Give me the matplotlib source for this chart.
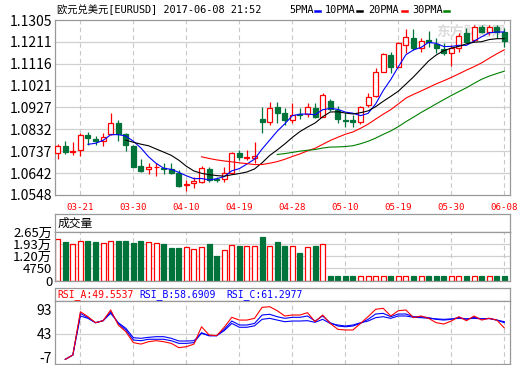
import matplotlib
matplotlib.use("Agg")
import matplotlib.pyplot as plt
from matplotlib.lines import Line2D
import numpy as np
import pandas as pd

W, H = 520, 365

# ---- data ----
dates = ["03-21", "03-30", "04-10", "04-19", "04-28", "05-10", "05-19", "05-30", "06-08"]
date_idx = [3, 10, 17, 24, 31, 38, 45, 52, 59]

opens = [1.0728, 1.0761, 1.0734, 1.0743, 1.0808, 1.0790, 1.0783, 1.0812, 1.0858, 1.0812,
         1.0760, 1.0673, 1.0659, 1.0667, 1.0666, 1.0659, 1.0642, 1.0593, 1.0599, 1.0606,
         1.0659, 1.0619, 1.0616, 1.0642, 1.0731, 1.0708, 1.0709, 1.0875, 1.0865, 1.0927,
         1.0901, 1.0872, 1.0898, 1.0898, 1.0923, 1.0887, 1.0955, 1.0916, 1.0871, 1.0872,
         1.0865, 1.0936, 1.0976, 1.1081, 1.1154, 1.1103, 1.1197, 1.1229, 1.1185, 1.1219,
         1.1200, 1.1178, 1.1161, 1.1185, 1.1247, 1.1219, 1.1273, 1.1254, 1.1273, 1.1252]
highs = [1.0769, 1.0782, 1.0779, 1.0818, 1.0822, 1.0803, 1.0815, 1.0901, 1.0872, 1.0818,
         1.0766, 1.0702, 1.0685, 1.0688, 1.0685, 1.0688, 1.0656, 1.0613, 1.0627, 1.0673,
         1.0670, 1.0627, 1.0668, 1.0735, 1.0743, 1.0743, 1.0779, 1.0930, 1.0952, 1.0952,
         1.0923, 1.0945, 1.0923, 1.0947, 1.0945, 1.0988, 1.0965, 1.0933, 1.0901, 1.0894,
         1.0933, 1.0991, 1.1096, 1.1161, 1.1168, 1.1211, 1.1265, 1.1266, 1.1226, 1.1257,
         1.1228, 1.1204, 1.1197, 1.1247, 1.1269, 1.1283, 1.1283, 1.1283, 1.1283, 1.1269]
lows = [1.0704, 1.0725, 1.0721, 1.0717, 1.0764, 1.0764, 1.0760, 1.0808, 1.0783, 1.0740,
        1.0667, 1.0649, 1.0639, 1.0630, 1.0639, 1.0639, 1.0584, 1.0567, 1.0577, 1.0600,
        1.0606, 1.0604, 1.0606, 1.0639, 1.0699, 1.0699, 1.0685, 1.0818, 1.0851, 1.0858,
        1.0851, 1.0858, 1.0875, 1.0887, 1.0880, 1.0884, 1.0911, 1.0861, 1.0843, 1.0841,
        1.0855, 1.0930, 1.0973, 1.1079, 1.1074, 1.1100, 1.1161, 1.1175, 1.1165, 1.1190,
        1.1161, 1.1154, 1.1107, 1.1168, 1.1204, 1.1211, 1.1247, 1.1240, 1.1226, 1.1190]
closes = [1.0760, 1.0735, 1.0737, 1.0808, 1.0796, 1.0783, 1.0798, 1.0858, 1.0812, 1.0764,
          1.0670, 1.0652, 1.0669, 1.0670, 1.0659, 1.0644, 1.0587, 1.0596, 1.0607, 1.0663,
          1.0613, 1.0612, 1.0644, 1.0731, 1.0711, 1.0712, 1.0717, 1.0864, 1.0923, 1.0904,
          1.0872, 1.0894, 1.0895, 1.0927, 1.0887, 1.0981, 1.0922, 1.0875, 1.0868, 1.0864,
          1.0927, 1.0971, 1.1079, 1.1158, 1.1103, 1.1204, 1.1230, 1.1182, 1.1214, 1.1211,
          1.1183, 1.1161, 1.1185, 1.1237, 1.1211, 1.1276, 1.1252, 1.1273, 1.1252, 1.1214]

volumes = [22700, 21000, 20100, 21800, 21800, 21200, 20600, 21800, 21400, 21800,
           20300, 21800, 21000, 20600, 20100, 17900, 17900, 18400, 17300, 18400,
           20100, 13400, 16600, 19400, 19000, 19100, 19100, 24000, 19000, 20800,
           19100, 19000, 15200, 18400, 19100, 20100, 2700, 2700, 2700, 2700,
           2700, 2700, 2700, 2700, 2700, 2700, 2700, 2700, 2700, 2700,
           2700, 2700, 2700, 2700, 2700, 2700, 2700, 2700, 2700, 2700]

rsi_a = [np.nan, -10.8, -1.8, 88.4, 78, 65.5, 69.7, 92, 60.7, 46.8,
         24, 21, 26, 28, 26, 22.5, 13.5, 15.5, 21, 57,
         40, 38.5, 56, 76.7, 71, 71, 74.6, 97.5, 98.8, 90.5,
         79.5, 81.5, 81.5, 86.4, 67.6, 81.5, 64, 51.7, 50.3, 50.3,
         64, 78, 93.4, 95.5, 79.5, 90.5, 92, 76, 79.5, 74.6,
         65.5, 62.8, 69, 78, 69.7, 79.5, 71, 74.6, 71, 54.5]
rsi_b = [np.nan, -10.8, -1.8, 85, 76, 65.5, 69.7, 88.4, 64, 50.3,
         29.5, 28, 31, 31, 31, 28, 22.5, 22.5, 24, 44.7,
         38.5, 38.5, 51.7, 69, 60.7, 60.7, 64, 81.5, 83, 78,
         74.6, 76.7, 76.7, 79.5, 69, 79.5, 65.5, 58.6, 57, 58.6,
         64, 72.5, 83.6, 85, 78, 83.6, 83.6, 78, 78, 76,
         72.5, 71, 72.5, 76.7, 72.5, 76.7, 73.5, 74.6, 71, 65.5]
rsi_c = [np.nan, -10.8, -1.8, 79.5, 74.6, 65.5, 69.7, 85, 65.5, 53.8,
         34.3, 33, 35, 36.4, 36.4, 33, 27.4, 27.4, 28, 43.4,
         38.5, 38.5, 49, 64, 56, 56, 59, 72.5, 74.6, 71,
         67.6, 69, 69, 69.7, 66.3, 72.5, 64, 60.7, 58.6, 60.7,
         65.5, 69, 76, 78, 74.6, 79.5, 79.5, 76.7, 76, 74.6,
         73.5, 72.5, 73.5, 74.6, 73.5, 74.6, 73.5, 74, 71, 67.6]

price_ticks = [1.0548, 1.0642, 1.0737, 1.0832, 1.0927, 1.1021, 1.1116, 1.1211, 1.1305]
vol_tick_labels = ["0", "4750", "1.20万", "1.93万", "2.65万"]
rsi_ticks = [-7, 43, 93]

ma_periods = [5, 10, 20, 30]
ma_colors = ["#0000ff", "#000000", "#ff0000", "#008000"]

# ---- style ----
RED = "#ff0000"
GREEN = "#00733b"
BORDER = "#999999"
GRID = "#d0d0d0"
NUM_FONT = ["Liberation Sans Narrow", "Noto Sans CJK SC", "DejaVu Sans"]
MONO_FONT = ["DejaVu Sans Mono", "Noto Sans CJK SC"]

fig = plt.figure(figsize=(W / 100, H / 100), dpi=100)
fig.patch.set_facecolor("white")


def px_axes(l, t, r, b):
    return fig.add_axes([l / W, 1 - b / H, (r - l) / W, (b - t) / H])


def frame(ax):
    for s in ax.spines.values():
        s.set_color(BORDER)
        s.set_linewidth(0.9)


x = np.arange(len(closes))
xlim = (-0.357, 59.75)
up = [c >= o for o, c in zip(opens, closes)]

# ---- main price panel ----
ax = px_axes(55, 20, 510, 195)
frame(ax)
ax.set_xlim(*xlim)
ax.set_ylim(price_ticks[0], price_ticks[-1])
for t in price_ticks[1:-1]:
    ax.axhline(t, color=GRID, lw=0.9, zorder=0)
for i in date_idx:
    ax.axvline(i, color="#c8c8c8", lw=0.8, ls=(0, (4, 3)), zorder=0)

ax.text(0.913, 0.93, "东方财富网", transform=ax.transAxes, ha="center", va="center",
        fontsize=10, fontweight="bold", color="#dcdcdc", family="Noto Sans CJK SC", zorder=0)

bw = 0.66
for i in x:
    o, h, l, c = opens[i], highs[i], lows[i], closes[i]
    lo, hi = min(o, c), max(o, c)
    body = max(hi - lo, 0.00012)
    if up[i]:
        ax.vlines(i, l, lo, color=RED, lw=0.9, zorder=2)
        ax.vlines(i, hi, h, color=RED, lw=0.9, zorder=2)
        ax.bar(i, body, bw, bottom=lo, facecolor="white", edgecolor=RED, lw=0.9, zorder=3)
    else:
        ax.vlines(i, l, h, color=GREEN, lw=0.9, zorder=2)
        ax.bar(i, body, bw, bottom=lo, facecolor=GREEN, edgecolor=GREEN, lw=0.9, zorder=3)

close_s = pd.Series(closes)
for n, col in zip(ma_periods, ma_colors):
    ax.plot(x, close_s.rolling(n).mean(), color=col, lw=0.8, zorder=4)

ax.set_yticks(price_ticks)
ax.set_yticklabels([f"{t:.4f}" for t in price_ticks], family=NUM_FONT, fontsize=10)
ax.set_xticks(date_idx)
ax.set_xticklabels(dates, family="DejaVu Sans Mono", fontsize=6.6, color=RED)
ax.tick_params(axis="y", length=0, pad=2)
ax.tick_params(axis="x", length=0, pad=5.5)

# title + legend
fig.text(57 / W, 1 - 10 / H, "欧元兑美元[EURUSD] 2017-06-08 21:52", family=MONO_FONT,
         fontsize=7.4, va="center", ha="left")
legend_x = [289, 325, 368, 412]
dash_x = [315, 357, 402, 444]
for n, col, lx, dx in zip(ma_periods, ma_colors, legend_x, dash_x):
    fig.text(lx / W, 1 - 10 / H, f"{n}PMA", family=MONO_FONT, fontsize=7.4, va="center", ha="left")
    fig.add_artist(Line2D([dx / W, (dx + 5) / W], [1 - 11 / H, 1 - 11 / H], color=col, lw=1.8))

# ---- volume panel ----
axh = px_axes(55, 214, 510, 232)
frame(axh)
axh.set_xticks([])
axh.set_yticks([])
axh.text(3 / 455, 0.5, "成交量", transform=axh.transAxes, family="Noto Sans CJK SC",
         fontsize=8.5, va="center", ha="left")

axv = px_axes(55, 232, 510, 280.5)
frame(axv)
axv.set_xlim(*xlim)
vmax = 26500
axv.set_ylim(0, vmax)
vol_ticks = np.linspace(0, vmax, len(vol_tick_labels))
for t in vol_ticks[1:-1]:
    axv.axhline(t, color=GRID, lw=0.9, zorder=0)
for i in date_idx:
    axv.axvline(i, color="#c8c8c8", lw=0.8, ls=(0, (4, 3)), zorder=0)
for i in x:
    if up[i]:
        axv.bar(i, volumes[i], bw, facecolor="white", edgecolor=RED, lw=0.9, zorder=2)
    else:
        axv.bar(i, volumes[i], bw, facecolor=GREEN, edgecolor=GREEN, lw=0.9, zorder=2)
axv.set_yticks(vol_ticks)
axv.set_yticklabels(vol_tick_labels, family=NUM_FONT, fontsize=9.5)
axv.set_xticks([])
axv.tick_params(axis="y", length=0, pad=2)

# ---- RSI panel ----
axrh = px_axes(55, 288, 510, 301)
frame(axrh)
axrh.set_xticks([])
axrh.set_yticks([])
rsi_labels = [f"RSI_A:{49.5537:.4f}", f"RSI_B:{58.6909:.4f}", f"RSI_C:{61.2977:.4f}"]
rsi_label_x = [57, 139, 226]
for lab, lx, col in zip(rsi_labels, rsi_label_x, [RED, "#0000ff", "#0000ff"]):
    fig.text(lx / W, 1 - 294.5 / H, lab, family=MONO_FONT, fontsize=7, color=col,
             va="center", ha="left")

axr = px_axes(55, 301, 510, 364)
frame(axr)
axr.set_xlim(*xlim)
axr.set_ylim(-20.5, 110.7)
axr.axhline(43, color=GRID, lw=0.9, zorder=0)
for i in date_idx:
    axr.axvline(i, color="#c8c8c8", lw=0.8, ls=(0, (4, 3)), zorder=0)
axr.plot(x, rsi_c, color="#0000ff", lw=0.8)
axr.plot(x, rsi_b, color="#0000ff", lw=0.8)
axr.plot(x, rsi_a, color=RED, lw=0.8)
axr.set_yticks(rsi_ticks)
axr.set_yticklabels([str(t) for t in rsi_ticks], family=NUM_FONT, fontsize=10)
axr.set_xticks([])
axr.tick_params(axis="y", length=0, pad=2)

fig.savefig("out.png", dpi=100, facecolor="white")
